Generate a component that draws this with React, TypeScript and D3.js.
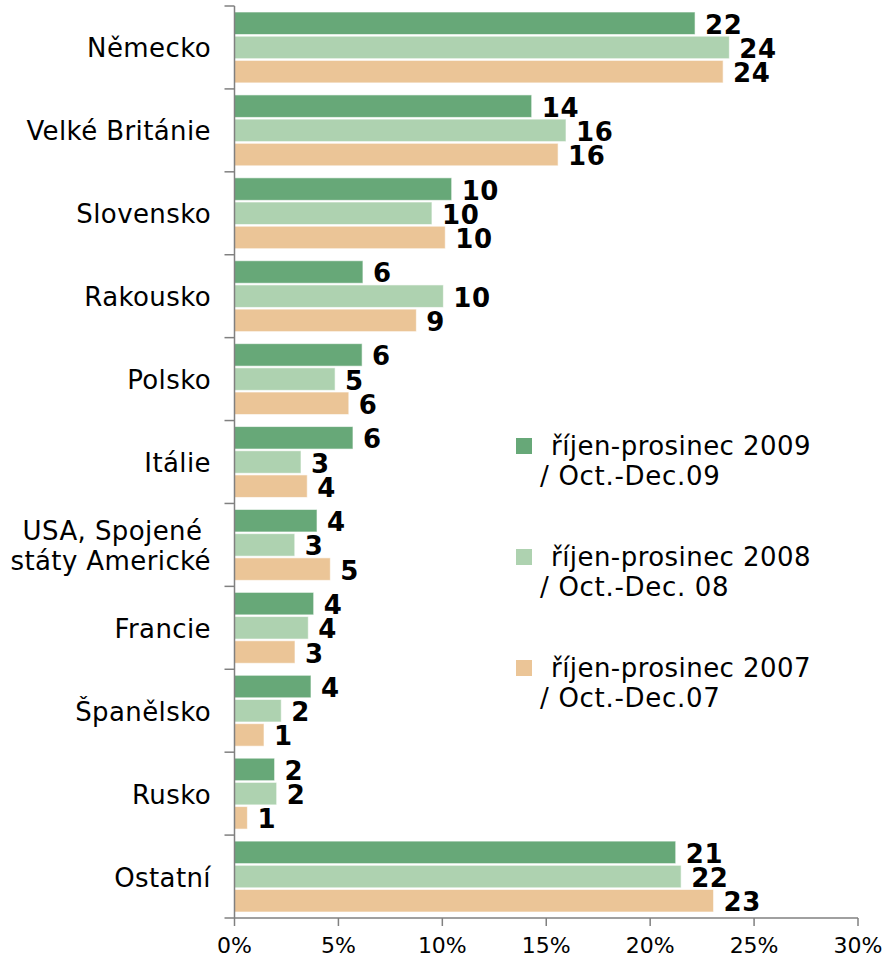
import React from "react";
import * as d3 from "d3";

const categories = [
  "Německo",
  "Velké Británie",
  "Slovensko",
  "Rakousko",
  "Polsko",
  "Itálie",
  "USA",
  "Francie",
  "Španělsko",
  "Rusko",
  "Ostatní",
];
const categoryLines: string[][] = [
  ["Německo"],
  ["Velké Británie"],
  ["Slovensko"],
  ["Rakousko"],
  ["Polsko"],
  ["Itálie"],
  ["USA, Spojené\u00a0", "státy Americké"],
  ["Francie"],
  ["Španělsko"],
  ["Rusko"],
  ["Ostatní"],
];
const seriesKeys = ["2009", "2008", "2007"];
const values2009 = [22.16, 14.3, 10.45, 6.18, 6.14, 5.7, 3.97, 3.81, 3.68, 1.93, 21.23];
const values2008 = [23.81, 15.95, 9.5, 10.05, 4.84, 3.2, 2.9, 3.55, 2.25, 2.03, 21.49];
const values2007 = [23.51, 15.57, 10.14, 8.75, 5.5, 3.5, 4.61, 2.91, 1.42, 0.62, 23.05];
const labels2009 = ["22", "14", "10", "6", "6", "6", "4", "4", "4", "2", "21"];
const labels2008 = ["24", "16", "10", "10", "5", "3", "3", "4", "2", "2", "22"];
const labels2007 = ["24", "16", "10", "9", "6", "4", "5", "3", "1", "1", "23"];
const legendLine1 = ["říjen-prosinec 2009", "říjen-prosinec 2008", "říjen-prosinec 2007"];
const legendLine2 = ["/ Oct.-Dec.09", "/ Oct.-Dec. 08", "/ Oct.-Dec.07"];
const xTicks = [0, 5, 10, 15, 20, 25, 30];

const colors = ["#67a878", "#aed2b0", "#ebc597"];
const FONT = "'DejaVu Sans', Verdana, sans-serif";

export default function App() {
  const seriesValues = [values2009, values2008, values2007];
  const seriesLabels = [labels2009, labels2008, labels2007];

  const x = d3.scaleLinear().domain([0, 30]).range([234.5, 858]);
  const y = d3
    .scaleBand<string>()
    .domain(categories)
    .range([6, 918])
    .paddingInner(0.145)
    .paddingOuter(0.0725);
  const sub = d3
    .scaleBand<string>()
    .domain(seriesKeys)
    .range([0, y.bandwidth()])
    .paddingInner(0.07);
  const boundaries = d3.range(categories.length + 1).map((i) => 6 + i * y.step());
  const axisColor = "#808080";

  return (
    <svg
      width={884}
      height={960}
      style={{ position: "absolute", left: 0, top: 0, background: "#fff" }}
      fontFamily={FONT}
    >
      {/* bars */}
      {seriesKeys.map((k, si) =>
        categories.map((c, ci) => {
          const v = seriesValues[si][ci];
          const by = (y(c) as number) + (sub(k) as number);
          const bh = sub.bandwidth();
          return (
            <g key={k + c}>
              <rect
                x={x(0)}
                y={by}
                width={x(v) - x(0)}
                height={bh}
                fill={colors[si]}
                stroke="#ffffff"
                strokeOpacity={0.6}
                strokeWidth={1}
              />
              <text
                x={x(v) + 10}
                y={by + bh / 2 + 10.5}
                fontSize={26}
                fontWeight="bold"
                letterSpacing={0.6}
                fill="#000"
              >
                {seriesLabels[si][ci]}
              </text>
            </g>
          );
        })
      )}

      {/* y axis */}
      <line x1={x(0)} x2={x(0)} y1={6} y2={918} stroke={axisColor} strokeWidth={1.5} />
      {boundaries.map((b, i) => (
        <line key={"yt" + i} x1={x(0) - 10} x2={x(0)} y1={b} y2={b} stroke={axisColor} strokeWidth={1.5} />
      ))}
      {categories.map((c, ci) => {
        const lines = categoryLines[ci];
        const cy = (y(c) as number) + y.bandwidth() / 2;
        const lh = 30;
        const first = cy + 10 - ((lines.length - 1) * lh) / 2;
        return (
          <text key={"cl" + c} textAnchor="end" fontSize={26} letterSpacing={0.4} fill="#000">
            {lines.map((l, li) => (
              <tspan key={li} x={211} y={first + li * lh}>
                {l}
              </tspan>
            ))}
          </text>
        );
      })}

      {/* x axis */}
      <line x1={x(0)} x2={x(30)} y1={918} y2={918} stroke={axisColor} strokeWidth={1.5} />
      {xTicks.map((t) => (
        <g key={"xt" + t}>
          <line x1={x(t)} x2={x(t)} y1={918} y2={926} stroke={axisColor} strokeWidth={1.5} />
          <text x={x(t)} y={953} textAnchor="middle" fontSize={22} fill="#000">
            {t + "%"}
          </text>
        </g>
      ))}

      {/* legend */}
      {seriesKeys.map((k, si) => {
        const base = 455 + si * 111;
        return (
          <g key={"lg" + k}>
            <rect x={516} y={base - 17} width={16} height={16} fill={colors[si]} />
            <text x={551} y={base} fontSize={26} letterSpacing={0.45} fill="#000">
              {legendLine1[si]}
            </text>
            <text x={540} y={base + 30} fontSize={26} letterSpacing={0.7} fill="#000">
              {legendLine2[si]}
            </text>
          </g>
        );
      })}
    </svg>
  );
}
